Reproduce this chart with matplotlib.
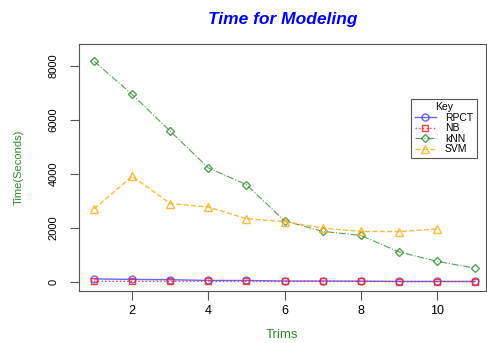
import numpy as np
import matplotlib.pyplot as plt

plt.rcParams['font.family'] = ['Liberation Sans', 'DejaVu Sans']

trims = [1, 2, 3, 4, 5, 6, 7, 8, 9, 10, 11]
rpct = [100, 80, 70, 40, 40, 20, 20, 15, 5, 5, 5]
nb = [10, 10, 10, 5, 5, 5, 5, 5, 0, 0, 0]
knn = [8160, 6930, 5570, 4210, 3590, 2250, 1860, 1710, 1100, 750, 500]
svm_trims = [1, 2, 3, 4, 5, 6, 7, 8, 9, 10]
svm = [2690, 3900, 2890, 2760, 2330, 2220, 1980, 1860, 1850, 1950]

fig = plt.figure(figsize=(4.87, 3.43), dpi=100)
ax = fig.add_axes([0.162, 0.152, 0.836, 0.72])

ax.plot(trims, rpct, color='#4040ff', ls='-', marker='o', mfc='none', ms=5, lw=1, alpha=0.8, label='RPCT')
ax.plot(trims, nb, color='#ff2020', ls=':', marker='s', mfc='none', ms=5, lw=1, alpha=0.85, label='NB')
ax.plot(trims, knn, color='#2e8b2e', ls='-.', marker='D', mfc='none', ms=4.5, lw=0.8, alpha=0.8, label='kNN')
ax.plot(svm_trims, svm, color='#ffb020', ls='--', marker='^', mfc='none', ms=6, lw=1, alpha=0.85, label='SVM')

ax.set_xlim(0.6, 11.29)
ax.set_ylim(-344, 8804)
ax.set_xticks([2, 4, 6, 8, 10])
ax.set_yticks([0, 2000, 4000, 6000, 8000])
ax.tick_params(length=6.5, color='#555555')
ax.tick_params(axis='x', labelsize=9, pad=4)
ax.tick_params(axis='y', labelsize=8, pad=8)
for lab in ax.get_yticklabels():
    lab.set_rotation(90)
    lab.set_va('center')
for s in ax.spines.values():
    s.set_color('#555555')

ax.set_title('Time for Modeling', color='blue', fontsize=12.5, fontweight='bold',
             fontstyle='italic', pad=14)
ax.set_xlabel('Trims', color='#2e8b2e', fontsize=9.5, labelpad=8)
ax.set_ylabel('Time(Seconds)', color='#2e8b2e', fontsize=8, labelpad=18)

leg = ax.legend(title='Key', loc='upper right', bbox_to_anchor=(0.99, 0.80),
                fontsize=7.5, title_fontsize=7.5, fancybox=False, edgecolor='#555555',
                handlelength=2.0, handletextpad=0.9, labelspacing=0.05, borderpad=0.35,
                framealpha=1)
leg.get_frame().set_linewidth(0.8)

fig.savefig('out.png', dpi=100)
